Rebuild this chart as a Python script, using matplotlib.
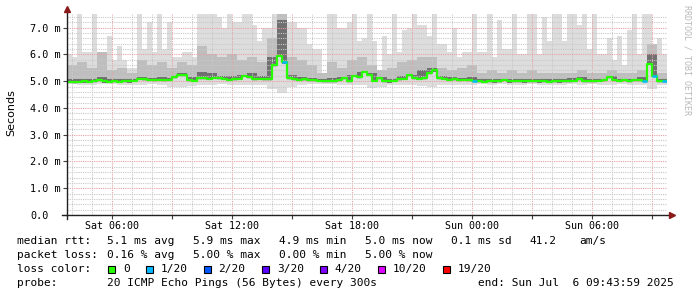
import numpy as np
import matplotlib
matplotlib.use("Agg")
import matplotlib.pyplot as plt
from matplotlib.patches import Rectangle

# time axis: hours since Sat 00:00, 15-minute bins
t_start = 3.75
bin_h = 0.25

# median rtt (ms), one value per 15 min
med = [4.98, 4.97, 4.98, 4.99, 4.98, 5.00, 5.03, 4.99, 4.98, 5.00,
       4.98, 5.00, 4.99, 5.02, 5.09, 5.08, 5.05, 5.04, 5.06, 5.04,
       5.05, 5.15, 5.22, 5.22, 5.03, 5.02, 5.12, 5.12, 5.10, 5.13,
       5.11, 5.09, 5.06, 5.08, 5.10, 5.20, 5.15, 5.08, 5.10, 5.07,
       5.08, 5.60, 5.95, 5.70, 5.12, 5.08, 5.06, 5.07, 5.04, 5.04,
       5.02, 5.00, 5.00, 5.00, 5.03, 5.12, 5.00, 5.20, 5.15, 5.35,
       5.25, 5.02, 5.12, 5.00, 4.99, 5.02, 5.08, 5.10, 5.22, 5.12,
       5.10, 5.12, 5.30, 5.40, 5.12, 5.10, 5.06, 5.08, 5.04, 5.05,
       5.04, 5.02, 5.00, 4.98, 5.00, 4.99, 5.00, 5.06, 4.99, 5.00,
       5.00, 4.99, 5.00, 5.01, 4.99, 5.00, 4.98, 5.00, 4.99, 5.00,
       5.00, 5.02, 5.08, 5.00, 5.01, 5.00, 5.02, 5.03, 5.15, 5.04,
       5.02, 5.03, 5.01, 5.04, 5.03, 5.02, 5.65, 5.20, 5.00, 5.00]

# lost pings out of 20, per 15 min
loss = [0, 0, 0, 0, 0, 0, 0, 0, 0, 0, 0, 0, 0, 0, 0, 0, 0, 0, 0, 0,
        0, 0, 0, 0, 0, 0, 0, 0, 0, 0, 0, 0, 0, 0, 0, 0, 0, 0, 0, 0,
        0, 0, 0, 1, 0, 0, 0, 0, 0, 0, 0, 0, 0, 0, 0, 0, 0, 0, 0, 0,
        0, 0, 0, 0, 0, 0, 0, 0, 0, 0, 0, 0, 0, 0, 0, 0, 0, 0, 0, 0,
        0, 1, 0, 0, 0, 0, 0, 0, 0, 0, 0, 0, 0, 0, 0, 0, 0, 0, 0, 0,
        0, 0, 0, 0, 0, 0, 0, 0, 0, 0, 0, 0, 0, 0, 0, 1, 0, 1, 0, 1]

# slowest ping (ms), per 15 min
top = [6.0, 5.9, 7.5, 6.1, 6.1, 7.5, 5.6, 5.6, 6.7, 5.8,
       6.3, 5.8, 5.5, 5.5, 7.5, 6.2, 7.2, 6.1, 7.5, 6.2,
       7.2, 5.9, 5.9, 6.1, 6.1, 5.9, 7.5, 7.5, 7.5, 7.5,
       7.4, 7.0, 7.5, 7.2, 7.2, 7.5, 7.5, 7.1, 6.5, 7.0,
       7.0, 7.5, 7.5, 7.5, 7.2, 7.2, 7.0, 7.0, 6.4, 6.2,
       6.2, 5.3, 7.5, 7.5, 7.0, 7.0, 7.2, 7.5, 6.5, 6.6,
       7.5, 6.5, 5.3, 6.7, 6.0, 7.5, 6.1, 6.9, 7.0, 7.5,
       7.1, 7.1, 6.7, 7.5, 6.4, 6.4, 6.1, 7.0, 5.9, 6.1,
       6.1, 7.5, 6.1, 6.1, 7.5, 5.9, 7.3, 6.2, 6.2, 7.5,
       6.0, 6.0, 7.5, 7.5, 6.0, 7.4, 6.5, 7.5, 7.5, 6.5,
       7.5, 7.5, 7.1, 7.5, 6.2, 7.5, 6.0, 6.0, 6.6, 5.8,
       6.7, 5.6, 6.9, 7.5, 6.0, 7.5, 7.5, 6.2, 6.6, 6.0]

# inner smoke bands (ms), per 30 min
mid = [5.6, 5.7, 5.5, 6.1, 5.4, 5.5, 5.3, 5.8, 5.6, 5.7,
       5.5, 5.7, 5.6, 6.3, 6.0, 5.9, 6.0, 5.8, 5.9, 5.7,
       6.6, 7.5, 5.9, 5.8, 5.6, 5.3, 5.7, 5.5, 5.8, 5.9,
       5.6, 5.4, 5.5, 5.7, 5.8, 5.9, 5.9, 5.5, 5.4, 5.5,
       5.6, 5.3, 5.4, 5.3, 5.4, 5.3, 5.4, 5.3, 5.3, 5.3,
       5.3, 5.4, 5.3, 5.3, 5.4, 5.3, 5.3, 5.4, 6.4, 5.3]
dark = [5.08, 5.10, 5.08, 5.15, 5.08, 5.10, 5.08, 5.15, 5.12, 5.15,
        5.12, 5.30, 5.15, 5.35, 5.30, 5.20, 5.20, 5.25, 5.30, 5.20,
        5.90, 7.30, 5.25, 5.15, 5.12, 5.10, 5.12, 5.15, 5.25, 5.35,
        5.30, 5.15, 5.10, 5.20, 5.25, 5.40, 5.50, 5.20, 5.15, 5.12,
        5.15, 5.08, 5.10, 5.08, 5.10, 5.08, 5.10, 5.08, 5.08, 5.10,
        5.12, 5.15, 5.10, 5.10, 5.20, 5.10, 5.10, 5.15, 6.00, 5.10]
low = [4.88, 4.85, 4.87, 4.90, 4.88, 4.86, 4.87, 4.85, 4.88, 4.86,
       4.80, 4.78, 4.82, 4.85, 4.86, 4.88, 4.85, 4.87, 4.86, 4.85,
       4.70, 4.55, 4.80, 4.86, 4.88, 4.90, 4.88, 4.87, 4.85, 4.85,
       4.75, 4.78, 4.85, 4.86, 4.85, 4.82, 4.80, 4.85, 4.86, 4.87,
       4.86, 4.88, 4.87, 4.88, 4.86, 4.87, 4.88, 4.87, 4.85, 4.87,
       4.88, 4.87, 4.88, 4.86, 4.87, 4.88, 4.86, 4.87, 4.70, 4.85]

loss_labels = ["0", "1/20", "2/20", "3/20", "4/20", "10/20", "19/20"]
loss_colors = ["#26ff00", "#00b8ff", "#0059ff", "#5e00ff", "#7e00ff", "#dd00ff", "#ff0000"]
loss_counts = [0, 1, 2, 3, 4, 10, 19]

x_ticks = [6, 12, 18, 24, 30]
x_ticklabels = ["Sat 06:00", "Sat 12:00", "Sat 18:00", "Sun 00:00", "Sun 06:00"]
y_ticks = [0, 1, 2, 3, 4, 5, 6, 7]
y_ticklabels = ["0.0", "1.0 m", "2.0 m", "3.0 m", "4.0 m", "5.0 m", "6.0 m", "7.0 m"]

W, H = 697, 297
MONO = "DejaVu Sans Mono"


def fx(px):
    return px / W


def fy(py):
    return 1 - py / H


def stepped(a):
    a = np.asarray(a, dtype=float)
    return np.append(a, a[-1])


med = np.array(med)
n = len(med)
edges = t_start + bin_h * np.arange(n + 1)
mid_f = np.repeat(mid, 2)
dark_f = np.repeat(dark, 2)
low_f = np.repeat(low, 2)

fig = plt.figure(figsize=(W / 100, H / 100), dpi=100)
ax = fig.add_axes([fx(67), fy(215), 600 / W, 200.7 / H])

# smoke
ax.fill_between(edges, stepped(low_f), stepped(top), step="post", color="#dddddd", lw=0, zorder=1)
ax.fill_between(edges, stepped(med - 0.06), stepped(mid_f), step="post", color="#bebebe", lw=0, zorder=1)
ax.fill_between(edges, stepped(med - 0.04), stepped(dark_f), step="post", color="#707070", lw=0, zorder=1)

# median line coloured by loss
ax.plot(edges, stepped(med), drawstyle="steps-post", color=loss_colors[0], lw=1.6, zorder=3)
for i in range(n):
    if loss[i] > 0:
        c = loss_colors[loss_counts.index(loss[i])]
        ax.hlines(med[i], edges[i], edges[i + 1], color=c, lw=1.8, zorder=4)

ax.set_xlim(t_start, t_start + bin_h * n)
ax.set_ylim(0, 7.5)

ax.set_xticks(np.arange(6, 34, 3))
ax.set_xticklabels([x_ticklabels[x_ticks.index(t)] if t in x_ticks else "" for t in range(6, 34, 3)])
ax.set_xticks(np.arange(4, 34, 1), minor=True)
ax.set_yticks(y_ticks)
ax.set_yticklabels(y_ticklabels)
ax.set_yticks(np.arange(0.2, 7.5, 0.2), minor=True)

ax.set_axisbelow(False)
ax.grid(which="minor", color="#c8c8c8", ls=(0, (1, 1)), lw=0.8)
ax.grid(which="major", color="#e8a0a0", ls=(0, (1, 1)), lw=0.8)

ax.tick_params(which="minor", length=0)
ax.tick_params(which="major", direction="out", length=3, width=0.8, color="#404040")
ax.tick_params(axis="x", labelsize=7.2, pad=1.5)
ax.tick_params(axis="y", labelsize=7.3, pad=23.5)
for lab in ax.get_xticklabels() + ax.get_yticklabels():
    lab.set_family(MONO)
for lab in ax.get_yticklabels():
    lab.set_horizontalalignment("left")

for s in ax.spines.values():
    s.set_visible(False)
ax.plot([-0.008, 1.006], [0, 0], transform=ax.transAxes, color="#202020", lw=1, clip_on=False, zorder=5)
ax.plot([0, 0], [-0.02, 1.02], transform=ax.transAxes, color="#202020", lw=1, clip_on=False, zorder=5)
ax.plot([1.008], [0], marker=">", ms=4, color="#8b1a1a", transform=ax.transAxes, clip_on=False, zorder=6)
ax.plot([0], [1.025], marker="^", ms=4, color="#8b1a1a", transform=ax.transAxes, clip_on=False, zorder=6)

fig.text(fx(11), fy(113), "Seconds", rotation=90, ha="center", va="center", fontsize=8, family="DejaVu Sans")
fig.text(fx(687), fy(60), "RRDTOOL / TOBI OETIKER", rotation=270, ha="center", va="center",
         fontsize=6, family=MONO, color="#b8b8b8")

# legend rows
rows = [
    (241, [(16.7, "median rtt:"), (107.3, "5.1 ms avg"), (192.7, "5.9 ms max"), (279.3, "4.9 ms min"),
           (365, "5.0 ms now"), (451, "0.1 ms sd"), (529.3, "41.2"), (579.3, "am/s")]),
    (255, [(16.7, "packet loss:"), (107.3, "0.16 % avg"), (192.7, "5.00 % max"), (279.3, "0.00 % min"),
           (365, "5.00 % now")]),
    (269, [(16.7, "loss color:")]),
    (283, [(16.7, "probe:"), (107.3, "20 ICMP Echo Pings (56 Bytes) every 300s"),
           (478.3, "end: Sun Jul  6 09:43:59 2025")]),
]
for y, items in rows:
    for x, s in items:
        fig.text(fx(x), fy(y), s, ha="left", va="center", fontsize=8, family=MONO)

sq_x = [108, 146, 203.5, 262, 319.5, 378, 443]
for x, lab, c in zip(sq_x, loss_labels, loss_colors):
    fig.add_artist(Rectangle((fx(x), fy(272.5)), 7 / W, 7 / H, transform=fig.transFigure,
                             facecolor=c, edgecolor="black", lw=0.8))
    fig.text(fx(x + 15), fy(269), lab, ha="left", va="center", fontsize=8, family=MONO)

fig.savefig("out.png", dpi=100)
